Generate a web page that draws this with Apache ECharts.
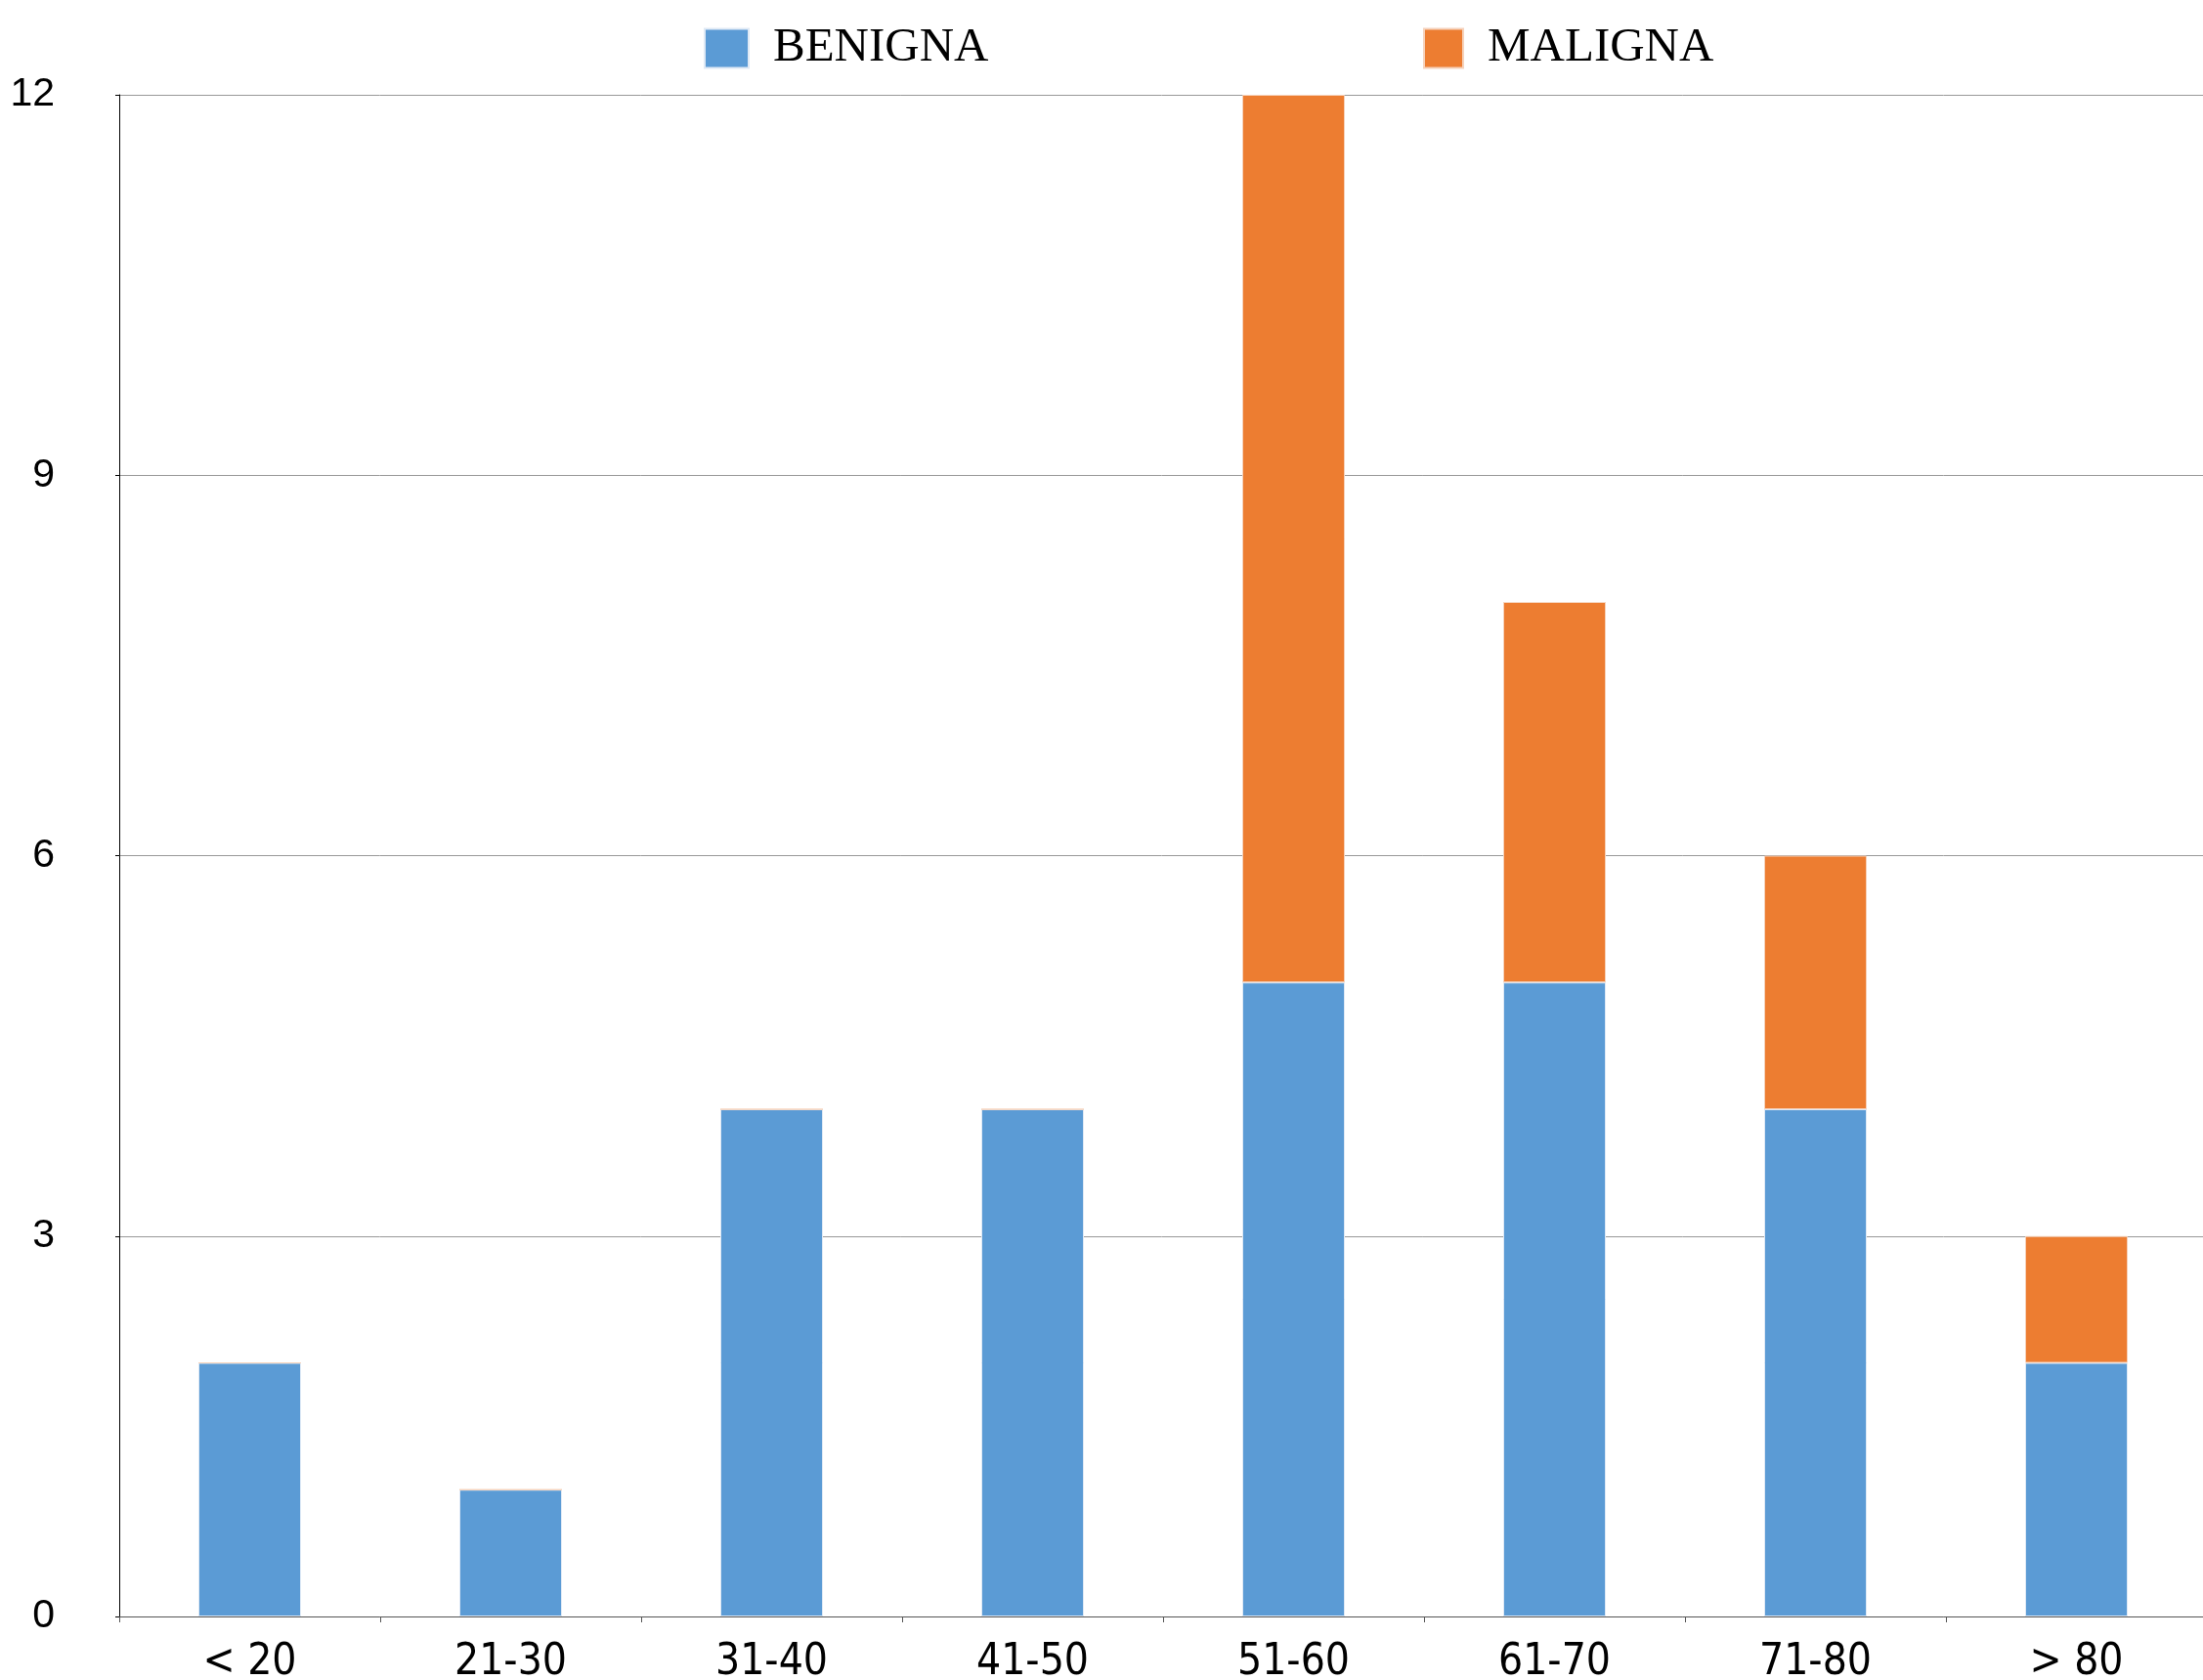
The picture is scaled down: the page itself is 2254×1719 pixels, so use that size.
<!DOCTYPE html>
<html>
<head>
<meta charset="utf-8">
<script src="https://cdn.jsdelivr.net/npm/echarts@6/dist/echarts.min.js"></script>
<style>
  html, body { margin: 0; padding: 0; background: #fff; }
  #chart { width: 2254px; height: 1719px; }
</style>
</head>
<body>
<div id="chart"></div>
<script>
    // age groups
    var categories = ['< 20', '21-30', '31-40', '41-50', '51-60', '61-70', '71-80', '> 80'];
    var benigna = [2, 1, 4, 4, 5, 5, 4, 2];
    var maligna = [0, 0, 0, 0, 7, 3, 2, 1];
    var yTicks = [0, 3, 6, 9, 12];

    var colors = ['#5B9BD5', '#ED7D31'];

    var myChart = echarts.init(document.getElementById('chart'));
    var legendText = {
        fontFamily: '"Liberation Serif", serif',
        fontSize: 49,
        color: '#000',
        padding: [0, 0, 0, 20]
    };
    var option = {
        animation: false,
        color: colors,
        legend: [
            {
                data: ['BENIGNA'],
                left: 715,
                top: 20,
                itemWidth: 45,
                itemHeight: 40,
                icon: 'rect',
                textStyle: legendText
            },
            {
                data: ['MALIGNA'],
                left: 1451,
                top: 20,
                itemWidth: 40,
                itemHeight: 40,
                icon: 'rect',
                textStyle: legendText
            }
        ],
        grid: {
            left: 122,
            right: -4,
            top: 97,
            bottom: 65,
            containLabel: false,
            outerBoundsMode: 'none'
        },
        xAxis: {
            type: 'category',
            data: categories,
            axisLine: { lineStyle: { color: '#555', width: 1 } },
            axisTick: { show: true, length: 6, lineStyle: { color: '#555' } },
            axisLabel: {
                margin: 26,
                fontSize: 44,
                color: '#000',
                fontFamily: '"Liberation Sans Narrow", "DejaVu Sans Condensed", sans-serif'
            }
        },
        yAxis: {
            type: 'value',
            min: yTicks[0],
            max: yTicks[yTicks.length - 1],
            interval: 3,
            axisLine: { show: true, lineStyle: { color: '#000', width: 1 } },
            axisTick: { show: true, length: 4, lineStyle: { color: '#000' } },
            splitLine: { lineStyle: { color: '#999', width: 1 } },
            axisLabel: {
                margin: 66,
                fontSize: 41,
                color: '#000',
                fontFamily: '"Liberation Sans", sans-serif',
                padding: [0, 0, 20, 0]
            }
        },
        series: [
            {
                name: 'BENIGNA',
                type: 'bar',
                stack: 'total',
                barWidth: 105,
                data: benigna,
                itemStyle: { color: colors[0], borderColor: '#dfe9f5', borderWidth: 1 }
            },
            {
                name: 'MALIGNA',
                type: 'bar',
                stack: 'total',
                barWidth: 105,
                data: maligna,
                itemStyle: { color: colors[1], borderColor: '#f6d2bb', borderWidth: 1 }
            }
        ]
    };
    myChart.setOption(option, true);
    window.addEventListener('resize', () => {
        myChart.resize();
    })
</script>
</body>
</html>
